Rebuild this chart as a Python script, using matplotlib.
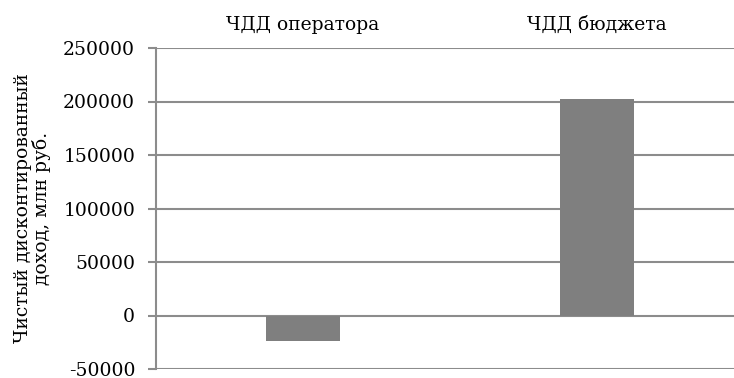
import matplotlib.pyplot as plt

categories = ["ЧДД оператора", "ЧДД бюджета"]
values = [-24000, 202000]
y_ticks = [-50000, 0, 50000, 100000, 150000, 200000, 250000]

plt.rcParams['font.family'] = ['DejaVu Serif']

fig = plt.figure(figsize=(7.34, 3.78), dpi=100)
# правая граница графика уходит немного за край рисунка
ax = fig.add_axes([156 / 734, (378 - 369) / 378, 588 / 734, 321 / 378])

ax.bar(range(len(categories)), values, width=0.25, color="#7f7f7f", zorder=3)

ax.set_xlim(-0.5, 1.5)
ax.set_ylim(-50000, 250000)
ax.set_yticks(y_ticks)
ax.set_yticklabels([str(v) for v in y_ticks], fontsize=13.5)
ax.yaxis.grid(True, color="#8c8c8c", linewidth=1.5, zorder=0)

ax.xaxis.tick_top()
ax.set_xticks(range(len(categories)))
ax.set_xticklabels(categories, fontsize=13.5)
ax.tick_params(axis="x", length=0, pad=10)
ax.tick_params(axis="y", length=6, width=1.5, color="#8c8c8c", pad=9)

for side in ["top", "right", "bottom"]:
    ax.spines[side].set_visible(False)
ax.spines["left"].set_color("#8c8c8c")
ax.spines["left"].set_linewidth(1.5)

ax.set_ylabel("Чистый дисконтированный\nдоход, млн руб.", fontsize=13.5,
              linespacing=0.95, labelpad=9)

fig.savefig("out.png", dpi=100)
